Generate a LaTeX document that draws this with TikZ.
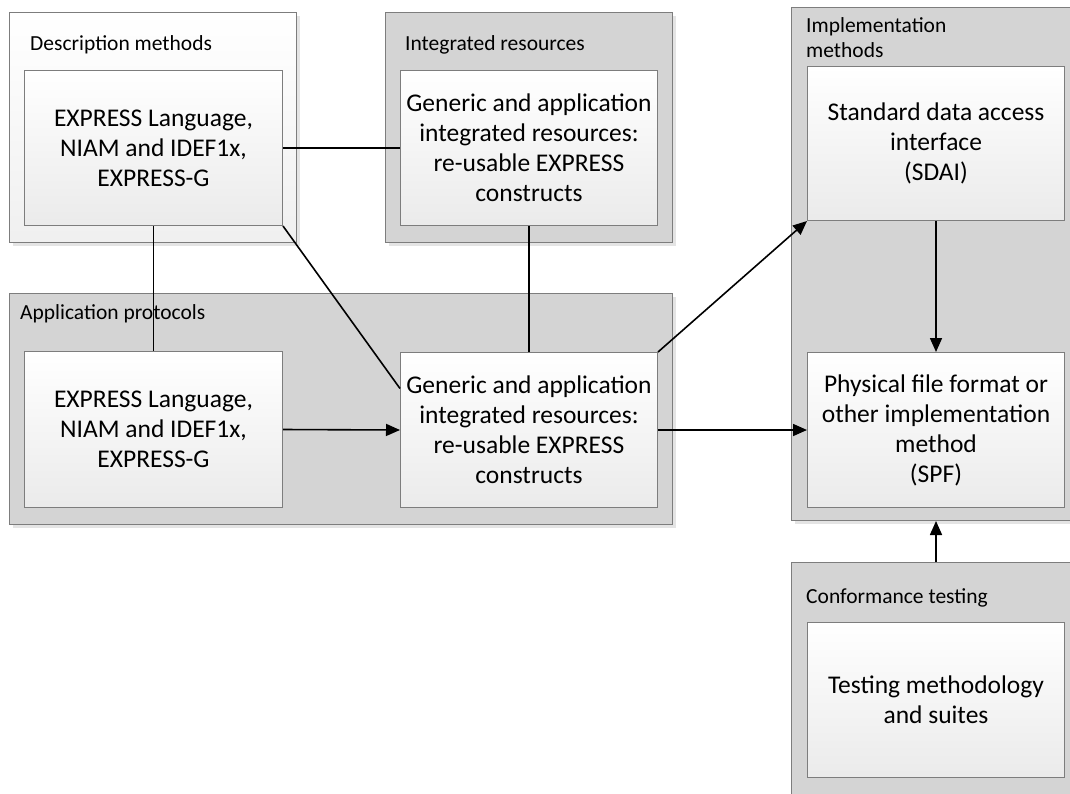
\documentclass[tikz,border=0pt]{standalone}
\usepackage{fontspec}
\setmainfont{Carlito}
\usetikzlibrary{arrows.meta,calc,shadows}
\definecolor{panelgray}{RGB}{212,212,212}
\definecolor{edgegray}{RGB}{125,125,125}
\definecolor{shadowgray}{RGB}{228,228,228}

\tikzset{
  boxshadow/.style={drop shadow={shadow xshift=3pt, shadow yshift=-3pt, fill=shadowgray, opacity=1}},
  panel/.style={draw=edgegray, line width=1pt, fill=panelgray, inner sep=0pt,
    anchor=north west, boxshadow},
  lightpanel/.style={panel, top color=white, bottom color=black!6},
  card/.style={draw=edgegray, line width=1pt, top color=white, bottom color=black!8,
    inner sep=2pt, align=center, anchor=north west,
    font=\fontsize{25.5}{30}\selectfont},
  paneltitle/.style={anchor=base west, inner sep=0pt, align=left,
    font=\fontsize{21.5}{25}\selectfont},
  link/.style={line width=1.6pt, draw=black},
  flow/.style={link, -{Triangle[length=14pt,width=12pt]}},
}

\begin{document}
\begin{tikzpicture}[x=1pt,y=-1pt]
\useasboundingbox (0,0) rectangle (1070,793);
\clip (0,0) rectangle (1070,793);

% group panels
\node[lightpanel, minimum width=287pt, minimum height=230pt] (desc) at (9,12) {};
\node[panel, minimum width=287pt, minimum height=230pt] (integ) at (385,12) {};
\node[panel, minimum width=278.5pt, minimum height=513pt] (impl) at (791,7) {};
\node[panel, minimum width=663pt, minimum height=231pt] (app) at (9,293) {};
\node[panel, minimum width=278.5pt, minimum height=240pt] (conf) at (791,562) {};

% panel titles
\node[paneltitle] (descT) at (30,50) {Description methods};
\node[paneltitle] (integT) at (405,50) {Integrated resources};
\node[paneltitle] (implT) at (806,57) {Implementation\\methods};
\node[paneltitle] (appT) at (20,319) {Application protocols};
\node[paneltitle] (confT) at (806,603) {Conformance testing};

% content boxes
\node[card, minimum width=258pt, minimum height=155pt] (descA) at (24,70)
  {EXPRESS Language,\\NIAM and IDEF1x,\\EXPRESS-G};
\node[card, minimum width=257pt, minimum height=155pt] (integA) at (400,70)
  {Generic and application\\integrated resources:\\re-usable EXPRESS\\constructs};
\node[card, minimum width=257pt, minimum height=154pt] (sdai) at (807,66)
  {Standard data access\\interface\\(SDAI)};
\node[card, minimum width=257pt, minimum height=155pt] (spf) at (807,352)
  {Physical file format or\\other implementation\\method\\(SPF)};
\node[card, minimum width=258pt, minimum height=156pt] (appL) at (24,351)
  {EXPRESS Language,\\NIAM and IDEF1x,\\EXPRESS-G};
\node[card, minimum width=257pt, minimum height=155pt] (appR) at (400,352)
  {Generic and application\\integrated resources:\\re-usable EXPRESS\\constructs};
\node[card, minimum width=257pt, minimum height=155pt] (test) at (807,622)
  {Testing methodology\\and suites};

% connectors
\draw[link] (descA.east) -- (integA.west);
\draw[link] (descA.south) -- (appL.north);
\draw[link] (descA.south east) -- ([yshift=41.5pt]appR.west);
\draw[link] (integA.south) -- (appR.north);
\draw[flow] (appL.east) -- (appR.west);
\draw[flow] (appR.north east) -- (sdai.south west);
\draw[flow] (appR.east) -- (spf.west);
\draw[flow] (sdai.south) -- (spf.north);
\draw[flow] (conf.north -| test.north) -- (impl.south -| test.north);
\end{tikzpicture}
\end{document}
